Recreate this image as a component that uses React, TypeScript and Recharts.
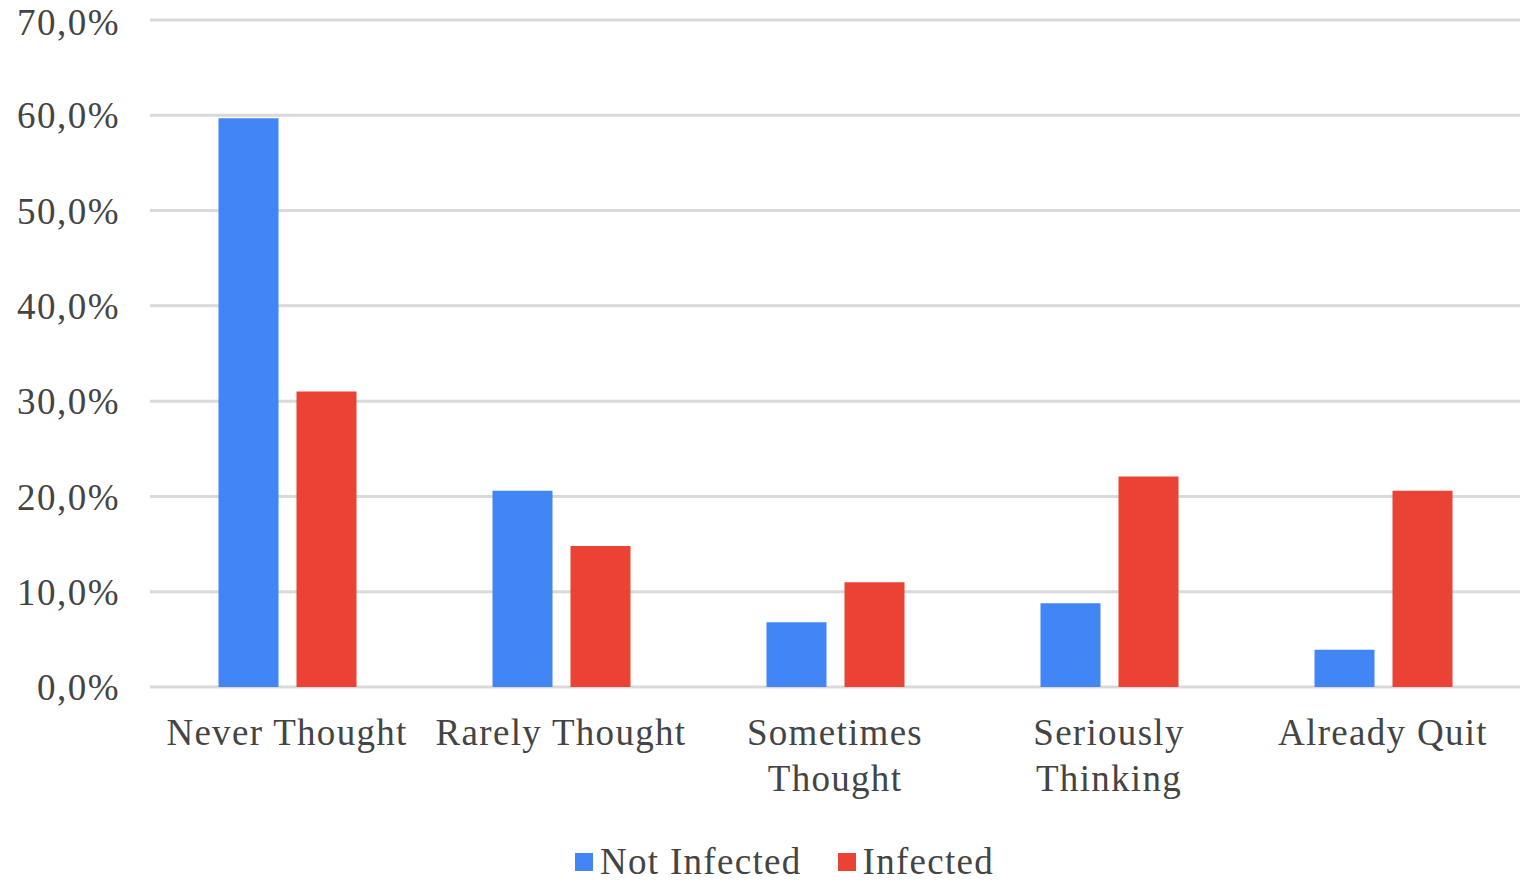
import { Bar, BarChart, CartesianGrid, Legend, XAxis, YAxis } from 'recharts';

const categories = ['Never Thought', 'Rarely Thought', 'Sometimes Thought', 'Seriously Thinking', 'Already Quit'];
const categoryLines = [['Never Thought'], ['Rarely Thought'], ['Sometimes', 'Thought'], ['Seriously', 'Thinking'], ['Already Quit']];
const notInfected = [59.7, 20.6, 6.8, 8.8, 3.9];
const infected = [31.0, 14.8, 11.0, 22.1, 20.6];
const yTicks = [0, 10, 20, 30, 40, 50, 60, 70];

const seriesNames = ['Not Infected', 'Infected'];
const colors = ['#4285f4', '#ea4335'];
const textColor = '#444444';
const font = '"Liberation Serif", "Times New Roman", serif';

const data = categories.map((name, i) => ({
    name,
    notInfected: notInfected[i],
    infected: infected[i],
}));

function CategoryTick({ x, y, payload }: any) {
    const idx = categories.indexOf(payload.value);
    const lines = categoryLines[idx] ?? [payload.value];
    return (
        <text x={x} y={y + 50} textAnchor="middle" fill={textColor} fontSize={37} fontFamily={font} letterSpacing={1.3}>
            {lines.map((line, i) => (
                <tspan key={line} x={x} dy={i === 0 ? 0 : 46}>
                    {line}
                </tspan>
            ))}
        </text>
    );
}

function LegendContent() {
    return (
        <div style={{ display: 'flex', alignItems: 'center', fontFamily: font, fontSize: 37, color: textColor, letterSpacing: 1.3 }}>
            {seriesNames.map((name, i) => (
                <div key={name} style={{ display: 'flex', alignItems: 'center', marginRight: i === 0 ? 36 : 0 }}>
                    <span style={{ display: 'inline-block', width: 18, height: 18, background: colors[i], marginRight: 7 }} />
                    <span>{name}</span>
                </div>
            ))}
        </div>
    );
}

export default function App() {
    return (
        <div style={{ position: 'absolute', left: 0, top: 0, width: 1535, height: 890, background: '#fff' }}>
            <BarChart
                width={1535}
                height={890}
                data={data}
                margin={{ top: 20, right: 15, bottom: 143, left: 0 }}
                barCategoryGap="25%"
                barGap={18}
            >
                <CartesianGrid vertical={false} stroke="#d9d9d9" strokeWidth={3} />
                <XAxis dataKey="name" axisLine={false} tickLine={false} tick={<CategoryTick />} interval={0} height={60} />
                <YAxis
                    domain={[0, 70]}
                    ticks={yTicks}
                    width={150}
                    axisLine={false}
                    tickLine={false}
                    tickMargin={24}
                    tickFormatter={(v: number) => `${v.toFixed(1).replace('.', ',')}%`}
                    tick={{ fill: textColor, fontSize: 37, fontFamily: font, letterSpacing: 1.5 }}
                />
                <Legend
                    verticalAlign="middle"
                    content={<LegendContent />}
                    wrapperStyle={{ position: 'absolute', left: 575, top: 840, width: 'auto' }}
                />
                <Bar dataKey="notInfected" name={seriesNames[0]} fill={colors[0]} isAnimationActive={false} />
                <Bar dataKey="infected" name={seriesNames[1]} fill={colors[1]} isAnimationActive={false} />
            </BarChart>
        </div>
    );
}
